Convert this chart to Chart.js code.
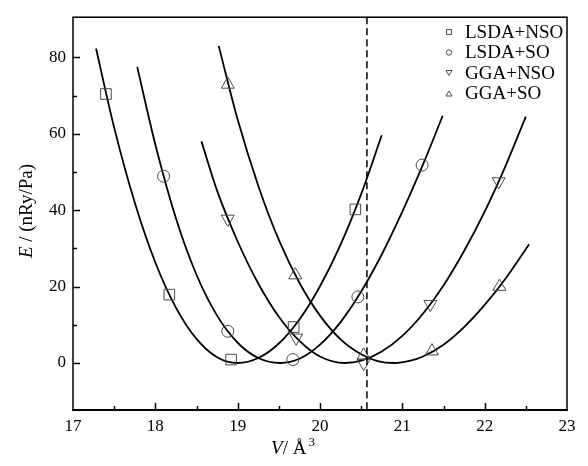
<!DOCTYPE html>
<html>
<head>
<meta charset="utf-8">
<script src="https://cdn.jsdelivr.net/npm/chart.js@4.4.1/dist/chart.umd.min.js"></script>
<style>
  html, body { margin: 0; padding: 0; background: #fff; }
  #wrap { width: 588px; height: 466px; }
</style>
</head>
<body>
<div id="wrap"><canvas id="eos"></canvas></div>
<script>
// measured points (volume in Å^3, energy in nRy/Pa)
const volLsdaNso = [17.40, 18.17, 18.92, 19.68, 20.43];
const eLsdaNso   = [70.4, 17.9, 0.9, 9.4, 40.2];
const volLsdaSo  = [18.10, 18.88, 19.67, 20.46, 21.24];
const eLsdaSo    = [48.9, 8.3, 0.9, 17.3, 51.8];
const volGgaNso  = [18.88, 19.71, 20.53, 21.34, 22.17];
const eGgaNso    = [37.7, 6.6, 0.0, 15.4, 47.5];
const volGgaSo   = [18.88, 19.70, 20.53, 21.36, 22.18];
const eGgaSo     = [72.9, 23.0, 2.0, 3.1, 20.0];

// fitted E(V) curves
const fitLsdaNsoV = [17.28, 17.5, 17.75, 18.0, 18.25, 18.5, 18.75, 19.0, 19.25, 19.5, 19.75, 20.0, 20.25, 20.5, 20.75];
const fitLsdaNsoE = [82.3, 61.6, 42.0, 26.3, 14.5, 6.3, 1.5, 0.0, 1.3, 5.1, 11.4, 20.1, 31.0, 44.2, 59.6];
const fitLsdaSoV  = [17.78, 18.0, 18.25, 18.5, 18.75, 19.0, 19.25, 19.52, 19.75, 20.0, 20.25, 20.5, 20.75, 21.0, 21.25, 21.49];
const fitLsdaSoE  = [77.5, 57.2, 37.9, 23.1, 12.4, 5.3, 1.3, 0.0, 1.1, 4.8, 10.7, 18.7, 28.4, 39.6, 51.9, 64.7];
const fitGgaNsoV  = [18.56, 18.75, 19.0, 19.25, 19.5, 19.75, 20.0, 20.3, 20.5, 20.75, 21.0, 21.25, 21.5, 21.75, 22.0, 22.25, 22.5];
const fitGgaNsoE  = [58.0, 45.1, 31.8, 20.8, 12.1, 5.8, 1.7, 0.0, 0.6, 3.0, 7.1, 12.9, 20.3, 29.3, 39.6, 51.4, 64.5];
const fitGgaSoV   = [18.77, 19.0, 19.25, 19.5, 19.75, 20.0, 20.25, 20.5, 20.7, 20.9, 21.1, 21.25, 21.5, 21.75, 22.0, 22.25, 22.54];
const fitGgaSoE   = [83.0, 63.7, 46.4, 32.2, 21.0, 12.4, 6.2, 2.3, 0.5, 0.0, 0.6, 1.7, 4.8, 9.4, 15.2, 22.0, 31.1];

const seriesNames = ['LSDA+NSO', 'LSDA+SO', 'GGA+NSO', 'GGA+SO'];
const xTicks = [17, 18, 19, 20, 21, 22, 23];
const yTicks = [0, 20, 40, 60, 80];
const vDashed = 20.57;

const SERIF = '"Liberation Serif", "Times New Roman", serif';
const markerColor = '#4a4a4a';

const pts = (xs, ys) => xs.map((x, i) => ({ x: x, y: ys[i] }));

function curve(xs, ys) {
  return {
    data: pts(xs, ys),
    showLine: true,
    borderColor: '#000',
    borderWidth: 1.8,
    pointRadius: 0,
    cubicInterpolationMode: 'monotone',
    order: 2
  };
}

function markers(xs, ys, style, radius, rotation) {
  return {
    data: pts(xs, ys),
    showLine: false,
    pointStyle: style,
    pointRadius: radius,
    pointRotation: rotation || 0,
    pointBorderColor: markerColor,
    pointBackgroundColor: 'rgba(0,0,0,0)',
    pointBorderWidth: 1,
    order: 1
  };
}

const yMin = -12.3, yMax = 90.5;

// little glyphs for the legend
function legendGlyph(ctx, kind, x, y) {
  ctx.save();
  ctx.strokeStyle = markerColor;
  ctx.lineWidth = 1;
  ctx.beginPath();
  if (kind === 0) {
    ctx.rect(x - 2.5, y - 2.5, 5, 5);
  } else if (kind === 1) {
    ctx.arc(x, y, 2.7, 0, Math.PI * 2);
  } else if (kind === 2) {
    ctx.moveTo(x - 3, y - 2.5); ctx.lineTo(x, y + 2.5); ctx.lineTo(x + 3, y - 2.5); ctx.closePath();
  } else {
    ctx.moveTo(x - 3, y + 2.5); ctx.lineTo(x, y - 2.5); ctx.lineTo(x + 3, y + 2.5); ctx.closePath();
  }
  ctx.stroke();
  ctx.restore();
}

const framePlugin = {
  id: 'frame',
  afterDatasetsDraw(chart) {
    const { ctx, chartArea: a, scales: { x, y } } = chart;
    ctx.save();

    // dashed reference volume
    ctx.strokeStyle = '#000';
    ctx.lineWidth = 1.5;
    ctx.setLineDash([7, 4]);
    const xd = x.getPixelForValue(vDashed);
    ctx.beginPath();
    ctx.moveTo(xd, a.top);
    ctx.lineTo(xd, a.bottom);
    ctx.stroke();
    ctx.setLineDash([]);

    // box
    ctx.lineWidth = 1.5;
    ctx.strokeRect(a.left, a.top, a.right - a.left, a.bottom - a.top);
    ctx.lineWidth = 2.2;
    ctx.beginPath();
    ctx.moveTo(a.left - 1, a.bottom);
    ctx.lineTo(a.right + 1, a.bottom);
    ctx.stroke();

    // inward ticks
    ctx.lineWidth = 1.5;
    ctx.beginPath();
    for (let v = 17.5; v < 23; v += 0.5) {
      const px = Math.round(x.getPixelForValue(v)) + 0.5;
      const len = Number.isInteger(v) ? 7 : 4;
      ctx.moveTo(px, a.bottom);
      ctx.lineTo(px, a.bottom - len);
    }
    for (let v = 0; v <= 80; v += 10) {
      const py = Math.round(y.getPixelForValue(v)) + 0.5;
      const len = v % 20 === 0 ? 7 : 4;
      ctx.moveTo(a.left, py);
      ctx.lineTo(a.left + len, py);
    }
    ctx.stroke();

    // legend
    ctx.fillStyle = '#000';
    ctx.font = '19px ' + SERIF;
    ctx.textBaseline = 'middle';
    ctx.textAlign = 'left';
    seriesNames.forEach((name, i) => {
      const ry = 32 + i * 20.5;
      legendGlyph(ctx, i, 449, ry);
      ctx.fillText(name, 465, ry + 1);
    });

    // axis titles
    ctx.textBaseline = 'alphabetic';
    ctx.save();
    ctx.translate(32, 211);
    ctx.rotate(-Math.PI / 2);
    ctx.font = 'italic 19px ' + SERIF;
    const eW = ctx.measureText('E').width;
    ctx.font = '19px ' + SERIF;
    const restY = ' / (nRy/Pa)';
    const rW = ctx.measureText(restY).width;
    let sx = -(eW + rW) / 2;
    ctx.font = 'italic 19px ' + SERIF;
    ctx.fillText('E', sx, 0);
    ctx.font = '19px ' + SERIF;
    ctx.fillText(restY, sx + eW, 0);
    ctx.restore();

    ctx.font = 'italic 19px ' + SERIF;
    const vW = ctx.measureText('V').width;
    ctx.font = '19px ' + SERIF;
    const midX = '/ Å';
    const mW = ctx.measureText(midX).width;
    ctx.font = '13px ' + SERIF;
    const supW = ctx.measureText('3').width;
    let tx = 293 - (vW + mW + supW + 2) / 2;
    const ty = 454;
    ctx.font = 'italic 19px ' + SERIF;
    ctx.fillText('V', tx, ty);
    ctx.font = '19px ' + SERIF;
    ctx.fillText(midX, tx + vW, ty);
    ctx.font = '13px ' + SERIF;
    ctx.fillText('3', tx + vW + mW + 2, ty - 8);

    ctx.restore();
  }
};

new Chart(document.getElementById('eos'), {
  type: 'scatter',
  data: {
    datasets: [
      curve(fitLsdaNsoV, fitLsdaNsoE),
      curve(fitLsdaSoV, fitLsdaSoE),
      curve(fitGgaNsoV, fitGgaNsoE),
      curve(fitGgaSoV, fitGgaSoE),
      markers(volLsdaNso, eLsdaNso, 'rect', 7.5),
      markers(volLsdaSo, eLsdaSo, 'circle', 6),
      markers(volGgaNso, eGgaNso, 'triangle', 7.5, 180),
      markers(volGgaSo, eGgaSo, 'triangle', 7.5)
    ]
  },
  options: {
    responsive: true,
    maintainAspectRatio: false,
    animation: false,
    events: [],
    layout: { padding: { top: 7, right: 21, left: 0, bottom: 0 } },
    plugins: { legend: { display: false }, tooltip: { enabled: false } },
    scales: {
      x: {
        type: 'linear',
        min: 17,
        max: 23,
        grid: { display: false, drawTicks: false },
        border: { display: false },
        afterBuildTicks: (s) => { s.ticks = xTicks.map(v => ({ value: v })); },
        afterFit: (s) => { s.height = 56; },
        ticks: { color: '#000', padding: 6, maxRotation: 0, font: { family: SERIF, size: 17 } }
      },
      y: {
        type: 'linear',
        min: yMin,
        max: yMax,
        grid: { display: false, drawTicks: false },
        border: { display: false },
        afterBuildTicks: (s) => { s.ticks = yTicks.map(v => ({ value: v })); },
        afterFit: (s) => { s.width = 73; },
        ticks: { color: '#000', padding: 7, font: { family: SERIF, size: 17 } }
      }
    }
  },
  plugins: [framePlugin]
});
</script>
</body>
</html>
